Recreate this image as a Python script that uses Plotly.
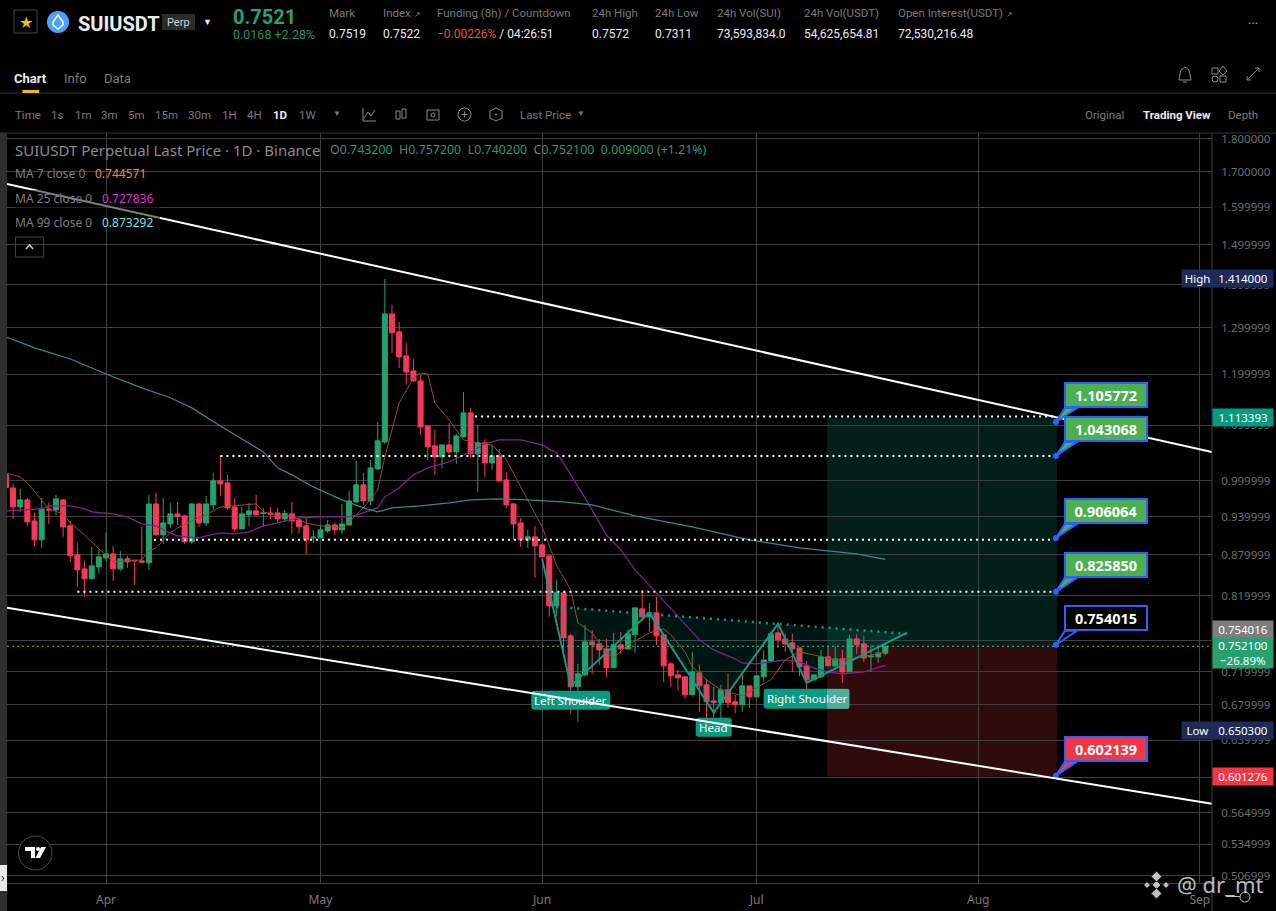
import numpy as np
import pandas as pd
import plotly.graph_objects as go

# daily candles (Mar 18 -> Jul 19)
dates = pd.date_range("2024-03-18", periods=124).strftime("%Y-%m-%d").tolist()
opens = [1.010, .9873, .9556, .9672, .9329, .9030, .9523, .9507, .9672, .9250,
         .8800, .8591, .8445, .8620, .8755, .8815, .8591, .8740, .8720, .8710,
         .8680, .9605, .9108, .9281, .9442, .9410, .9000, .9605, .9297, .9589,
         .9993, .9959, .9556, .9202, .9426, .9491, .9447, .9458, .9458, .9361,
         .9442, .9345, .9250, .9061, .9061, .9170, .9265, .9186, .9265, .9639,
         .9925, .9655, 1.0201, 1.0686, 1.3315, 1.2910, 1.2387, 1.2072, 1.1867, 1.0983,
         1.0613, 1.0414, 1.0631, 1.0503, 1.0777, 1.1232, 1.0468, 1.0668, 1.0306, 1.0432,
         1.0010, .9605, .9297, .9030, .9077, .8953, .8785, .8061, .8244, .7657,
         .7014, .7160, .7578, .7552, .7487, .7247, .7539, .7487, .7670, .8020,
         .7911, .7966, .7670, .7297, .7160, .7136, .6919, .7185, .7038, .6847,
         .6825, .6978, .6836, .6801, .7026, .6895, .7136, .7334, .7696, .7617,
         .7565, .7500, .7272, .7099, .7136, .7385, .7272, .7360, .7197, .7617,
         .7552, .7385, .7385, .7432]
highs = [1.029, .9942, .9856, .9705, .9458, .9705, .9622, .9755, .9690, .9329,
         .8983, .8710, .8922, .8891, .9139, .8937, .8860, .8785, .8725, .9234,
         .9755, .9790, .9705, .9622, .9639, .9426, .9622, .9622, .9738, 1.0131,
         1.0432, 1.0097, .9705, .9556, .9622, .9755, .9540, .9556, .9540, .9507,
         .9639, .9394, .9377, .9186, .9265, .9345, .9297, .9605, .9822, 1.0342,
         1.0131, 1.0360, 1.1060, 1.4140, 1.3522, 1.3133, 1.2668, 1.2323, 1.1989, 1.0983,
         1.0908, 1.0631, 1.1040, 1.0834, 1.1645, 1.1329, 1.1003, 1.0741, 1.0631, 1.0558,
         1.0149, .9622, .9377, .9186, .9250, .8955, .8785, .8430, .8262, .7683,
         .7297, .7803, .7736, .7617, .7617, .7696, .7709, .7736, .8034, .8286,
         .8103, .8187, .7670, .7322, .7222, .7148, .7449, .7285, .7111, .7014,
         .7038, .7173, .6919, .7160, .7026, .7148, .7474, .7709, .7843, .7683,
         .7683, .7500, .7334, .7160, .7474, .7526, .7526, .7474, .7670, .7683,
         .7657, .7539, .7513, .7572]
lows = [.9878, .9361, .9475, .9250, .8922, .8907, .9281, .9426, .9077, .8695,
        .8329, .8187, .8440, .8518, .8710, .8416, .8561, .8605, .8358, .8680,
        .8576, .9100, .8968, .9218, .9265, .8968, .8968, .9234, .9250, .9507,
        .9738, .9507, .9155, .9202, .9250, .9426, .9234, .9361, .9313, .9313,
        .9124, .9124, .8815, .8983, .9061, .9139, .9108, .9124, .9250, .9622,
        .9589, .9589, 1.0184, 1.0650, 1.2452, 1.2134, 1.1786, 1.1847, 1.0815, 1.0360,
        1.0097, 1.0219, 1.0468, 1.0289, 1.0777, 1.0396, .9806, 1.0062, 1.0184, .9976,
        .9540, .9030, .8922, .8907, .8459, .8765, .7915, .7915, .7474, .6696,
        .6605, .7148, .7173, .7285, .7136, .7247, .7423, .7474, .7436, .7857,
        .7709, .7539, .7075, .7014, .6966, .6871, .6919, .6719, .6503, .6583,
        .6537, .6765, .6708, .6719, .6765, .6895, .7075, .7322, .7500, .7449,
        .7197, .7148, .6954, .7087, .7124, .7272, .7222, .7063, .7197, .7423,
        .7322, .7197, .7310, .7402]
closes = [.9880, .9556, .9672, .9313, .9030, .9523, .9507, .9689, .9234, .8785,
          .8576, .8445, .8635, .8770, .8815, .8591, .8740, .8695, .8710, .8690,
          .9605, .9108, .9297, .9442, .9394, .9000, .9605, .9297, .9605, .9993,
          .9942, .9540, .9202, .9442, .9491, .9426, .9458, .9437, .9361, .9447,
          .9329, .9234, .9030, .9072, .9186, .9265, .9186, .9281, .9655, .9925,
          .9655, 1.0219, 1.0705, 1.3315, 1.2888, 1.2366, 1.2051, 1.1867, 1.0964, 1.0595,
          1.0414, 1.0631, 1.0503, 1.0796, 1.1232, 1.0468, 1.0668, 1.0306, 1.0432, .9993,
          .9589, .9281, .9030, .9077, .8937, .8770, .8061, .8244, .7630, .7014,
          .7173, .7578, .7539, .7474, .7247, .7539, .7487, .7683, .8034, .7911,
          .7966, .7657, .7272, .7148, .7124, .6919, .7197, .7026, .6836, .6827,
          .6978, .6825, .6801, .7026, .6895, .7148, .7347, .7683, .7604, .7552,
          .7487, .7260, .7099, .7160, .7385, .7272, .7360, .7197, .7617, .7539,
          .7372, .7395, .7436, .7521]

# moving averages, read at the turning points
ma7_dates = ["2024-03-18", "2024-03-20", "2024-03-21", "2024-03-23", "2024-03-24", "2024-03-26", "2024-03-27",
             "2024-03-29", "2024-03-31", "2024-04-02", "2024-04-05", "2024-04-06", "2024-04-07", "2024-04-08",
             "2024-04-10", "2024-04-11", "2024-04-14", "2024-04-15", "2024-04-17", "2024-04-20", "2024-04-22",
             "2024-04-23", "2024-04-25", "2024-04-27", "2024-04-29", "2024-05-01", "2024-05-04", "2024-05-05",
             "2024-05-07", "2024-05-09", "2024-05-10", "2024-05-11", "2024-05-12", "2024-05-14", "2024-05-15",
             "2024-05-16", "2024-05-17", "2024-05-19", "2024-05-21", "2024-05-23", "2024-05-25", "2024-05-27",
             "2024-05-30", "2024-06-01", "2024-06-03", "2024-06-05", "2024-06-06", "2024-06-08", "2024-06-10",
             "2024-06-11", "2024-06-13", "2024-06-16", "2024-06-18", "2024-06-19", "2024-06-21", "2024-06-22",
             "2024-06-24", "2024-06-26", "2024-06-29", "2024-07-01", "2024-07-03", "2024-07-05", "2024-07-07",
             "2024-07-09", "2024-07-12", "2024-07-15", "2024-07-19"]
ma7_values = [1.0131, 1.0062, .9959, .9672, .9523, .9442, .9297,
              .9108, .8891, .8695, .8725, .8725, .8860, .8907,
              .9139, .9218, .9377, .9426, .9556, .9589, .9606,
              .9475, .9410, .9410, .9297, .9250, .9218, .9313,
              .9540, .9839, 1.0414, 1.0908, 1.1427, 1.1927, 1.2030,
              1.2009, 1.1427, 1.1097, 1.0723, 1.0668, 1.0631, 1.0360,
              .9672, .9234, .8650, .8286, .7830, .7696, .7436,
              .7372, .7539, .7696, .7749, .7670, .7449, .7260,
              .7099, .6978, .6907, .7002, .7099, .7347, .7449,
              .7410, .7347, .7372, .7446]

ma25_dates = ["2024-03-18", "2024-03-23", "2024-03-24", "2024-03-27", "2024-03-29", "2024-03-30", "2024-04-02",
              "2024-04-04", "2024-04-06", "2024-04-08", "2024-04-09", "2024-04-11", "2024-04-14", "2024-04-15",
              "2024-04-17", "2024-04-19", "2024-04-21", "2024-04-23", "2024-04-25", "2024-04-28", "2024-05-01",
              "2024-05-05", "2024-05-07", "2024-05-09", "2024-05-10", "2024-05-12", "2024-05-14", "2024-05-16",
              "2024-05-19", "2024-05-22", "2024-05-24", "2024-05-26", "2024-05-29", "2024-06-01", "2024-06-03",
              "2024-06-04", "2024-06-08", "2024-06-10", "2024-06-12", "2024-06-14", "2024-06-17", "2024-06-20",
              "2024-06-23", "2024-06-25", "2024-06-28", "2024-06-29", "2024-07-01", "2024-07-05", "2024-07-07",
              "2024-07-09", "2024-07-11", "2024-07-13", "2024-07-16", "2024-07-19"]
ma25_values = [.9491, .9523, .9573, .9573, .9523, .9475, .9442,
               .9394, .9281, .9250, .9186, .9092, .9061, .9092,
               .9139, .9124, .9155, .9250, .9297, .9377, .9394,
               .9394, .9458, .9540, .9723, .9873, 1.0097, 1.0219,
               1.0324, 1.0503, 1.0650, 1.0723, 1.0723, 1.0631, 1.0486,
               1.0306, .9507, .9108, .8876, .8576, .8244, .7911,
               .7604, .7474, .7360, .7310, .7297, .7347, .7322,
               .7247, .7197, .7173, .7197, .7278]

ma99_dates = ["2024-03-18", "2024-03-22", "2024-03-27", "2024-04-01", "2024-04-06", "2024-04-10", "2024-04-13",
              "2024-04-17", "2024-04-23", "2024-04-25", "2024-04-27", "2024-04-30", "2024-05-04", "2024-05-07",
              "2024-05-09", "2024-05-11", "2024-05-15", "2024-05-19", "2024-05-22", "2024-05-26", "2024-05-30",
              "2024-06-04", "2024-06-08", "2024-06-14", "2024-06-22", "2024-06-30", "2024-07-07", "2024-07-15",
              "2024-07-19"]
ma99_values = [1.2798, 1.2559, 1.2323, 1.2009, 1.1725, 1.1527, 1.1329,
               1.0983, 1.0503, 1.0219, 1.0097, .9890, .9672, .9540,
               .9475, .9540, .9573, .9622, .9672, .9689, .9672,
               .9639, .9589, .9410, .9234, .9030, .8907, .8815,
               .8733]

# head and shoulders drawing
zigzag_dates = ["2024-06-01", "2024-06-05", "2024-06-16", "2024-06-25", "2024-07-04", "2024-07-08", "2024-07-22"]
zigzag_prices = [.8740, .7026, .7965, .6708, .7816, .7063, .7696]
neck_dates = ["2024-06-03", "2024-07-22"]
neck_prices = [.8048, .7683]

# channel lines
axis_start = "2024-03-18 03:36"
axis_end = "2024-09-02 16:48"
upper_prices = [1.6646, 1.0503]
lower_prices = [.8034, .5737]

# dotted targets: start date and price
target_starts = ["2024-05-22 15:00", "2024-04-17", "2024-04-07 17:00", "2024-03-28"]
target_prices = [1.1164, 1.043068, .9030, .8258]
target_end = "2024-08-11 21:00"

# long/short box
box_start = "2024-07-10 20:00"
box_end = "2024-08-12"
entry_price = .7521
stop_price = .601276
target_price = 1.113393
last_price = .7521

callout_prices = [1.105772, 1.043068, .906064, .825850, .754015, .602139]
callout_text = ["1.105772", "1.043068", "0.906064", "0.825850", "0.754015", "0.602139"]
callout_fill = ["#4caf50", "#4caf50", "#4caf50", "#4caf50", "#000000", "#f23645"]

tick_prices = [1.8, 1.7, 1.6, 1.5, 1.4, 1.3, 1.2, 1.1, 1.0, .94, .88, .82, .76, .72, .68, .64, .6, .565, .535, .507]
tick_labels = ["1.800000", "1.700000", "1.599999", "1.499999", "1.399999", "1.299999", "1.199999", "1.099999",
               "0.999999", "0.939999", "0.879999", "0.819999", "0.759999", "0.719999", "0.679999", "0.639999",
               "0.599999", "0.564999", "0.534999", "0.506999"]
month_dates = ["2024-04-01", "2024-05-01", "2024-06-01", "2024-07-01", "2024-08-01", "2024-09-01"]
month_labels = ["Apr", "May", "Jun", "Jul", "Aug", "Sep"]

UP = "#27a06f"
DOWN = "#f5395a"
GRID = "#404040"
GREY = "#7a7a7a"
CHART_FONT = "Noto Sans"
UI_FONT = "Roboto"

LEFT, RIGHT, TOP, BOTTOM = 7, 1212, 133, 883


def px(x):
    return (x - LEFT) / (RIGHT - LEFT)


def py(y):
    return (BOTTOM - y) / (BOTTOM - TOP)


annotations = []
shapes = []


def text(x, y, s, color=GREY, size=12, font=UI_FONT, anchor="left", bold=False):
    if bold:
        s = f"<b>{s}</b>"
    # annotations sit a pixel or two right of their anchor
    if anchor == "left":
        x -= 1.5
    annotations.append(dict(x=px(x), y=py(y), xref="paper", yref="paper", text=s, showarrow=False,
                            xanchor=anchor, yanchor="middle", borderpad=0,
                            font=dict(color=color, size=size, family=font)))


def box(x0, y0, x1, y1, fill="rgba(0,0,0,0)", line=None, width=1, layer="above", kind="rect"):
    shapes.append(dict(type=kind, xref="paper", yref="paper", x0=px(x0), x1=px(x1), y0=py(y0), y1=py(y1),
                       fillcolor=fill, layer=layer, line=dict(color=line or "rgba(0,0,0,0)", width=width)))


def poly(points, line=None, fill=None, width=1, close=False):
    path = "M " + " L ".join(f"{px(a):.5f},{py(b):.5f}" for a, b in points)
    if close:
        path += " Z"
    shapes.append(dict(type="path", path=path, xref="paper", yref="paper", layer="above",
                       fillcolor=fill or "rgba(0,0,0,0)", line=dict(color=line or "rgba(0,0,0,0)", width=width)))


def tag(price, label, bg, yshift=0, height=17, color="white"):
    annotations.append(dict(x=px(1212), y=np.log10(price), xref="paper", yref="y", text=label, showarrow=False,
                            xanchor="left", yanchor="middle", yshift=yshift, align="center", width=60, height=height,
                            bgcolor=bg, borderpad=0, font=dict(color=color, size=11.5, family=CHART_FONT)))


def pattern_label(label, date, price, w, h):
    a, b = w / 2, h / 2
    r = 3
    path = (f"M {-a + r} {b} L {a - r} {b} Q {a} {b} {a} {b - r} L {a} {-b + r} Q {a} {-b} {a - r} {-b} "
            f"L {-a + r} {-b} Q {-a} {-b} {-a} {-b + r} L {-a} {b - r} Q {-a} {b} {-a + r} {b} Z")
    shapes.append(dict(type="path", path=path, xref="x", yref="y", xsizemode="pixel", ysizemode="pixel",
                       xanchor=date, yanchor=price, layer="above", fillcolor="#0b9a80", line=dict(width=0)))
    annotations.append(dict(x=date, y=np.log10(price), xref="x", yref="y", text=label, showarrow=False,
                            font=dict(color="white", size=11.5, family=CHART_FONT)))


fig = go.Figure()

# pattern fill sits under the candles
fig.add_trace(go.Scatter(x=neck_dates + zigzag_dates[::-1][:-1], y=neck_prices + zigzag_prices[::-1][:-1],
                         mode="lines", fill="toself", fillcolor="rgba(8,153,129,0.14)", line=dict(width=0)))
fig.add_trace(go.Candlestick(x=dates, open=opens, high=highs, low=lows, close=closes, whiskerwidth=0,
                             increasing=dict(line=dict(color=UP, width=1), fillcolor=UP),
                             decreasing=dict(line=dict(color=DOWN, width=1), fillcolor=DOWN)))
fig.add_trace(go.Scatter(x=ma7_dates, y=ma7_values, mode="lines", line=dict(color="#8a5518", width=1)))
fig.add_trace(go.Scatter(x=ma25_dates, y=ma25_values, mode="lines", line=dict(color="#86208c", width=1.2)))
fig.add_trace(go.Scatter(x=ma99_dates, y=ma99_values, mode="lines", line=dict(color="#2a8f88", width=1.2)))
fig.add_trace(go.Scatter(x=zigzag_dates, y=zigzag_prices, mode="lines", line=dict(color="#129a85", width=2)))
fig.add_trace(go.Scatter(x=neck_dates, y=neck_prices, mode="lines",
                         line=dict(color="#129a85", width=2.5, dash="2px,5px")))
for start, price in zip(target_starts, target_prices):
    fig.add_trace(go.Scatter(x=[start, target_end], y=[price, price], mode="lines",
                             line=dict(color="white", width=2, dash="2px,4px")))
fig.add_trace(go.Scatter(x=[axis_start, axis_end], y=[last_price, last_price], mode="lines",
                         line=dict(color="#2fd08f", width=1.2, dash="2px,3px")))
fig.add_trace(go.Scatter(x=[target_end] * len(callout_prices), y=callout_prices, mode="markers",
                         marker=dict(color="#2962ff", size=6)))

# long / short zones
shapes.append(dict(type="rect", xref="x", yref="y", x0=box_start, x1=box_end, y0=entry_price, y1=target_price,
                   fillcolor="rgba(8,153,129,0.2)", line=dict(width=0), layer="below"))
shapes.append(dict(type="rect", xref="x", yref="y", x0=box_start, x1=box_end, y0=stop_price, y1=entry_price,
                   fillcolor="rgba(242,54,69,0.2)", line=dict(width=0), layer="below"))

pattern_label("Left Shoulder", "2024-06-05", .6854, 79, 19)
pattern_label("Head", "2024-06-25", .6543, 36, 19)
pattern_label("Right Shoulder", "2024-07-08", .6871, 86, 20)
# red zone washes over the end of the right shoulder label
box(827, 689, 849, 709, fill="rgba(255,225,225,0.28)")

# channel lines go over the labels, like the drawing tools do
for prices in (upper_prices, lower_prices):
    shapes.append(dict(type="line", xref="x", yref="y", x0=axis_start, x1=axis_end, y0=prices[0], y1=prices[1],
                       layer="above", line=dict(color="white", width=2)))

# the legend block dims what is behind it
box(16, 190, 160, 230, fill="rgba(0,0,0,0.5)")

# callouts
for price, label, fill in zip(callout_prices, callout_text, callout_fill):
    shapes.append(dict(type="path", path="M 0 0 L 9 14 L 21 14 Z", xref="x", yref="y", xsizemode="pixel",
                       ysizemode="pixel", xanchor=target_end, yanchor=price, layer="above", fillcolor=fill,
                       line=dict(color="#2962ff", width=2)))
    annotations.append(dict(x=target_end, y=np.log10(price), xref="x", yref="y", text=f"<b>{label}</b>",
                            showarrow=False, xshift=50.5, yshift=26.7, width=80, height=22, bgcolor=fill,
                            bordercolor="#2962ff", borderwidth=2, borderpad=0,
                            font=dict(color="white", size=14.5, family=CHART_FONT)))

# price tags on the scale
tag(1.414, "1.414000", "#1c2b58")
annotations.append(dict(x=px(1181), y=np.log10(1.414), xref="paper", yref="y", text="High", showarrow=False,
                        xanchor="left", width=31, height=17, bgcolor="#1c2b58", borderpad=0,
                        font=dict(color="white", size=11.5, family=CHART_FONT)))
tag(target_price, "1.113393", "#089981")
tag(.754016, "0.754016", "#7d7d7d", yshift=15)
tag(last_price, "0.752100<br>−26.89%", UP, yshift=-7, height=30)
tag(.6503, "0.650300", "#1c2b58")
annotations.append(dict(x=px(1181), y=np.log10(.6503), xref="paper", yref="y", text="Low", showarrow=False,
                        xanchor="left", width=31, height=17, bgcolor="#1c2b58", borderpad=0,
                        font=dict(color="white", size=11.5, family=CHART_FONT)))
tag(stop_price, "0.601276", "#f23645")

# page chrome: rows above the chart
poly([(0, 93), (1276, 93)], line="#333333")
poly([(0, 133), (1276, 133)], line="#333333")
poly([(1212, 133), (1212, 911)], line="#404040")
box(0, 133, 7, 911, fill="#2e2e2e")
box(0, 865, 7, 891, fill="#e8e8e8")
text(1.5, 878, "›", color="#222222", size=12)

box(14, 10, 37, 33, line="#444444")
text(25.7, 22, "★", color="#f0b90b", size=16, anchor="center")
box(47, 11, 69, 33, fill="#4da2ff", kind="circle")
poly([(58, 15), (63, 22), (63, 25), (58, 29), (53, 25), (53, 22)], line="white", width=1.5, close=True)
text(78, 24, "SUIUSDT", color="#eaecef", size=20, bold=True)
box(162, 14, 195, 30, fill="#2b2b2b")
text(178.5, 22, "Perp", color="#d0d0d0", size=11, anchor="center")
text(207, 22, "▼", color="#eaecef", size=9, anchor="center")
text(233, 17, "0.7521", color="#26a17b", size=20, bold=True)
text(233, 35, "0.0168 +2.28%", color="#1f8f6d", size=12.5)

ARROW = "<span style='font-size:8px'>↗</span>"
for x, head, value in [(329, "Mark", "0.7519"), (383, "Index " + ARROW, "0.7522"), (592, "24h High", "0.7572"),
                       (655, "24h Low", "0.7311"), (717, "24h Vol(SUI)", "73,593,834.0"),
                       (804, "24h Vol(USDT)", "54,625,654.81"), (898, "Open Interest(USDT) " + ARROW, "72,530,216.48")]:
    text(x, 13, head, color=GREY, size=11.5)
    text(x, 34, value, color="#eaecef", size=12)
text(437.5, 13, "Funding (8h) / Countdown", color=GREY, size=11.5)
text(437.5, 34, "<span style='color:#e0592a'>−0.00226%</span> / 04:26:51", color="#eaecef", size=12)
text(1253, 20, "...", color="#b0b0b0", size=13, anchor="center")

text(14, 78, "Chart", color="#eaecef", size=13, bold=True)
text(64, 78, "Info", color=GREY, size=13)
text(104, 78, "Data", color=GREY, size=13)
box(22.5, 90, 39, 93, fill="#f0b90b")

# bell, layout and expand icons
poly([(1179, 80), (1181, 70), (1185, 67), (1189, 70), (1191, 80), (1179, 80)], line="#8a8a8a")
poly([(1183, 82), (1187, 82)], line="#8a8a8a")
box(1212, 68, 1218, 74, line="#8a8a8a")
box(1212, 76, 1218, 82, line="#8a8a8a", kind="circle")
box(1220, 76, 1226, 82, line="#8a8a8a")
poly([(1223, 66), (1227, 71), (1223, 75), (1219, 71)], line="#8a8a8a", close=True)
poly([(1247, 80), (1259, 68)], line="#8a8a8a")
poly([(1255, 68), (1259, 68), (1259, 72)], line="#8a8a8a")
poly([(1247, 76), (1247, 80), (1251, 80)], line="#8a8a8a")

for x, label in [(15.5, "Time"), (52, "1s"), (75, "1m"), (101, "3m"), (128, "5m"), (155, "15m"), (188.5, "30m"),
                 (222, "1H"), (247, "4H"), (299, "1W")]:
    text(x, 115, label, color=GREY, size=11.5)
text(273.5, 115, "1D", color="#eaecef", size=11.5, bold=True)
text(337, 114, "▼", color=GREY, size=8, anchor="center")
text(520, 115, "Last Price", color=GREY, size=11.5)
text(581, 114, "▼", color=GREY, size=8, anchor="center")
text(1085, 115, "Original", color=GREY, size=11.5)
text(1143, 115, "Trading View", color="#eaecef", size=11.5, bold=True)
text(1228, 115, "Depth", color=GREY, size=11.5)

# toolbar icons
poly([(363, 108), (363, 121), (376, 121)], line="#8a8a8a")
poly([(364, 118), (368, 112), (371, 116), (375, 110)], line="#8a8a8a")
box(396, 111, 400, 119, line="#8a8a8a")
box(402, 109, 406, 118, line="#8a8a8a")
box(427, 110, 439, 120, line="#8a8a8a")
box(431, 113, 435, 117, line="#8a8a8a", kind="circle")
box(458, 108, 471, 121, line="#8a8a8a", kind="circle")
poly([(461.5, 114.5), (467.5, 114.5)], line="#8a8a8a")
poly([(464.5, 111.5), (464.5, 117.5)], line="#8a8a8a")
poly([(496, 108), (502, 111), (502, 118), (496, 121), (490, 118), (490, 111)], line="#8a8a8a", close=True)
box(495, 113.5, 497, 115.5, fill="#8a8a8a", kind="circle")

# legend text
text(15.5, 150, "SUIUSDT Perpetual Last Price · 1D · Binance", color="#8a8a8a", size=15, font=CHART_FONT)
ohlc = "".join(f"<span style='color:#7a7a7a'>{k}</span>{v}&nbsp;&nbsp;" for k, v in
               [("O", "0.743200"), ("H", "0.757200"), ("L", "0.740200"), ("C", "0.752100")])
text(330, 150, ohlc + "0.009000 (+1.21%)", color="#1f9c78", size=12.4, font=CHART_FONT)
for y, label, vx, value, color in [(174, "MA 7 close 0", 95.5, "0.744571", "#e8912a"),
                                   (198, "MA 25 close 0", 102, "0.727836", "#d932d9"),
                                   (222, "MA 99 close 0", 102, "0.873292", "#5fe9e9")]:
    text(15.5, y, label, color="#7d7d7d", size=12, font=CHART_FONT)
    text(vx, y, value, color=color, size=12, font=CHART_FONT)
box(15.5, 237, 43.7, 257, line="#444444")
poly([(26, 249), (29.5, 245), (33, 249)], line="#cfcfcf", width=1.5)

# tradingview badge
box(18.5, 836, 52, 870, fill="#000000", line="#4a4a4a", kind="circle")
poly([(25, 847), (35, 847), (35, 858), (31, 858), (31, 851), (25, 851)], fill="white", close=True)
poly([(41, 847), (46, 847), (40, 858), (35.5, 858)], fill="white", close=True)
box(36, 847, 40, 851, fill="white", kind="circle")

# watermark
for cx, cy, r in [(1156.5, 885, 4.5), (1156.5, 876.5, 5.5), (1156.5, 893.5, 5.5), (1147, 885, 3.5), (1166, 885, 3.5)]:
    poly([(cx, cy - r), (cx + r, cy), (cx, cy + r), (cx - r, cy)], fill="rgba(225,225,225,0.85)",
         line="#000000", close=True)
text(1177, 884, "@ dr_mt", color="rgba(235,235,235,0.8)", size=22, font=CHART_FONT)
box(1240, 892, 1250, 902, line="#bdbdbd", kind="circle")
poly([(1226, 896.5), (1240, 896.5)], line="#bdbdbd")

fig.update_layout(
    width=1276,
    height=911,
    margin=dict(l=LEFT, r=1276 - RIGHT, t=TOP, b=911 - BOTTOM, autoexpand=False),
    paper_bgcolor="#000000",
    plot_bgcolor="#000000",
    showlegend=False,
    hovermode=False,
    boxgap=0.3,
    boxgroupgap=0,
    shapes=shapes,
    annotations=annotations,
    xaxis=dict(type="date", range=[axis_start, axis_end], rangeslider=dict(visible=False),
               tickvals=month_dates, ticktext=month_labels, showgrid=True, gridcolor=GRID, gridwidth=1,
               ticks="outside", ticklen=6, tickcolor="rgba(0,0,0,0)", zeroline=False,
               showline=True, linecolor=GRID, tickfont=dict(color=GREY, size=12, family=CHART_FONT)),
    yaxis=dict(type="log", side="right", range=[np.log10(.5007), np.log10(1.817)],
               tickvals=tick_prices, ticktext=tick_labels, showgrid=True, gridcolor=GRID, gridwidth=1,
               ticks="outside", ticklen=6, tickcolor="rgba(0,0,0,0)", zeroline=False,
               tickfont=dict(color="#6e6e6e", size=11.5, family=CHART_FONT)),
)

fig.write_html("out.html", config=dict(displayModeBar=False),
               post_script="document.body.style.margin='0';document.body.style.background='#000';")
